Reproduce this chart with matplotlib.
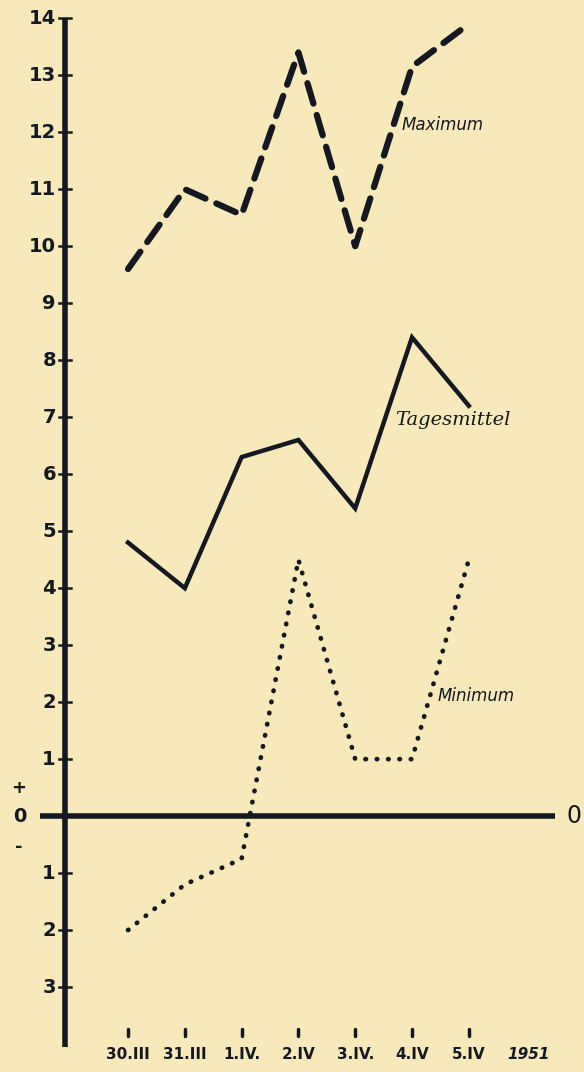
import matplotlib
matplotlib.use("Agg")
from matplotlib import pyplot as plt
import numpy as np

# Temperaturverlauf 30.III - 5.IV 1951
tage = ["30.III", "31.III", "1.IV.", "2.IV", "3.IV.", "4.IV", "5.IV"]
maximum = [9.6, 11.0, 10.55, 13.4, 10.0, 13.15, 13.9]
mittel = [4.8, 4.0, 6.3, 6.6, 5.4, 8.4, 7.2]
minimum = [-2.0, -1.2, -0.75, 4.5, 1.0, 1.0, 4.5]
y_ticks = [14, 13, 12, 11, 10, 9, 8, 7, 6, 5, 4, 3, 2, 1, 0, -1, -2, -3]

bg = "#f8e9bb"
ink = "#141820"

fig = plt.figure(figsize=(5.84, 10.72), dpi=100, facecolor=bg)
ax = fig.add_axes([0, 0, 1, 1])
ax.set_facecolor(bg)
ax.set_xlim(-2.254, 8.028)
ax.set_ylim(-4.49, 14.32)
ax.axis("off")

x = np.arange(len(tage))

# Achsen
ax.plot([-1.11, -1.11], [14.0, -4.05], color=ink, lw=4, solid_capstyle="butt")
ax.plot([-1.55, 7.52], [0, 0], color=ink, lw=4, solid_capstyle="butt")
ax.text(7.86, 0, "0", fontsize=17, ha="center", va="center", color=ink)
ax.text(-1.92, 0.5, "+", fontsize=13, ha="center", va="center", color=ink, fontweight="bold")
ax.text(-1.92, -0.55, "-", fontsize=13, ha="center", va="center", color=ink, fontweight="bold")

for v in y_ticks:
    ax.plot([-1.21, -1.0], [v, v], color=ink, lw=1.8)
    if v == 0:
        ax.text(-1.9, v, "0", fontsize=14, fontweight="bold", ha="center",
                va="center", color=ink)
    else:
        ax.text(-1.27, v, str(abs(v)), fontsize=14, fontweight="bold", ha="right",
                va="center", color=ink)

for i, t in enumerate(tage):
    ax.plot([i, i], [-3.74, -3.86], color=ink, lw=2.5, solid_capstyle="round")
    ax.text(i, -4.18, t, fontsize=11, fontweight="bold", ha="center", va="center",
            color=ink)
ax.text(7.05, -4.18, "1951", fontsize=11, fontweight="bold", fontstyle="italic",
        ha="center", va="center", color=ink)

# Kurven
ax.plot(x, maximum, color=ink, lw=4.5, linestyle=(0, (3.4, 1.9)), dash_capstyle="round")
ax.plot(x, mittel, color=ink, lw=3.2, solid_joinstyle="miter")
ax.plot(x, minimum, color=ink, lw=3.4, linestyle=(0, (0.1, 2.3)), dash_capstyle="round")

ax.text(4.82, 12.12, "Maximum", fontsize=12, fontstyle="italic", ha="left", va="center",
        color=ink)
ax.text(4.7, 6.95, "Tagesmittel", fontsize=14, fontstyle="italic", ha="left", va="center",
        color=ink, family="DejaVu Serif")
ax.text(5.45, 2.1, "Minimum", fontsize=12, fontstyle="italic", ha="left", va="center",
        color=ink)

fig.savefig("out.png", dpi=100, facecolor=bg)
